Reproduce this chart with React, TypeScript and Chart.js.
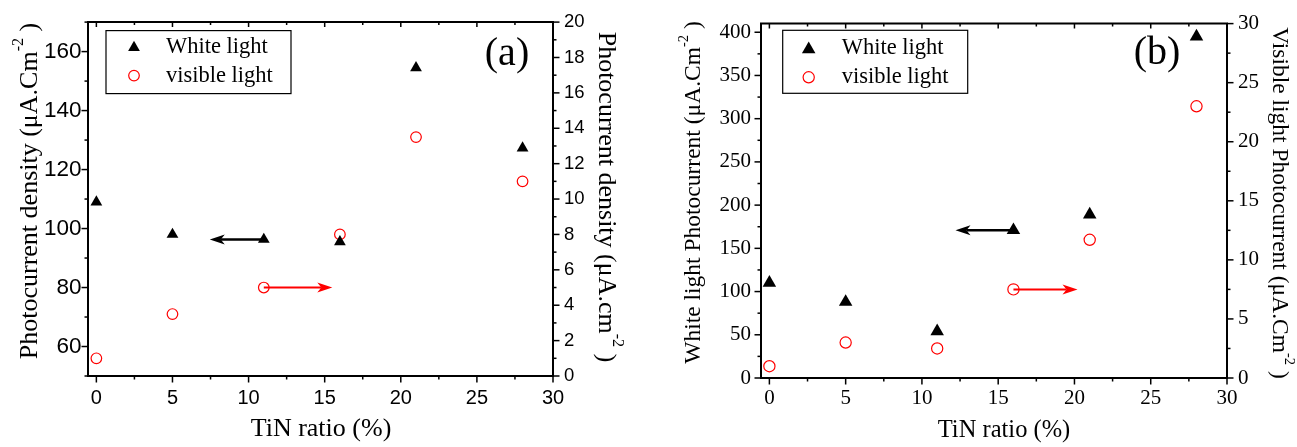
import React, { useEffect, useRef } from 'react';
import { Chart, registerables } from 'chart.js';

Chart.register(...registerables);

// ---------- data ----------
const tinRatio = [0, 5, 11, 16, 21, 28];
const whiteLightA = [109, 98, 96.3, 95.5, 154.5, 127.3];
const visibleLightA = [1, 3.5, 5, 8, 13.5, 11];
const whiteLightB = [110, 88, 54, 171, 189, 395];
const visibleLightB = [1, 3, 2.5, 7.5, 11.7, 23];

// ---------- ticks ----------
const xTicks = [0, 5, 10, 15, 20, 25, 30];
const xMinor = [2.5, 7.5, 12.5, 17.5, 22.5, 27.5];
const leftTicksA = [60, 80, 100, 120, 140, 160];
const leftMinorA = [50, 70, 90, 110, 130, 150, 170];
const rightTicksA = [0, 2, 4, 6, 8, 10, 12, 14, 16, 18, 20];
const rightMinorA = [1, 3, 5, 7, 9, 11, 13, 15, 17, 19];
const leftTicksB = [0, 50, 100, 150, 200, 250, 300, 350, 400];
const leftMinorB = [25, 75, 125, 175, 225, 275, 325, 375];
const rightTicksB = [0, 5, 10, 15, 20, 25, 30];
const rightMinorB = [2.5, 7.5, 12.5, 17.5, 22.5, 27.5];

// arrows: which axis each series belongs to
const arrowsA = [
  { fromX: 11, toX: 7.45, y: 96.3, axis: 'y', color: '#000000', width: 2.5 },
  { fromX: 11, toX: 15.5, y: 5, axis: 'y1', color: '#ff0000', width: 2 },
];
const arrowsB = [
  { fromX: 16, toX: 12.2, y: 171, axis: 'y', color: '#000000', width: 2.5 },
  { fromX: 16, toX: 20.2, y: 7.5, axis: 'y1', color: '#ff0000', width: 2 },
];

const SERIF = "'Liberation Serif', 'Times New Roman', serif";
const SANS = "'Liberation Sans', Arial, sans-serif";

type Part = { text: string; sup?: boolean };

function drawRich(ctx: CanvasRenderingContext2D, parts: Part[], cx: number, cy: number, rotation: number, size: number, family: string) {
  ctx.save();
  ctx.translate(cx, cy);
  ctx.rotate(rotation);
  ctx.fillStyle = '#000';
  ctx.textBaseline = 'middle';
  ctx.textAlign = 'left';
  const supSize = size * 0.62;
  const widths = parts.map((p) => {
    ctx.font = `${p.sup ? supSize : size}px ${family}`;
    return ctx.measureText(p.text).width;
  });
  const total = widths.reduce((a, b) => a + b, 0);
  let x = -total / 2;
  parts.forEach((p, i) => {
    ctx.font = `${p.sup ? supSize : size}px ${family}`;
    ctx.fillText(p.text, x, p.sup ? -size * 0.42 : 0);
    x += widths[i];
  });
  ctx.restore();
}

function drawTriangle(ctx: CanvasRenderingContext2D, x: number, y: number, r: number) {
  ctx.beginPath();
  ctx.moveTo(x, y - r);
  ctx.lineTo(x + 0.866 * r, y + 0.5 * r);
  ctx.lineTo(x - 0.866 * r, y + 0.5 * r);
  ctx.closePath();
  ctx.fillStyle = '#000';
  ctx.fill();
}

function drawArrow(ctx: CanvasRenderingContext2D, x1: number, x2: number, y: number, color: string, width: number) {
  const dir = Math.sign(x2 - x1);
  const L = 15;
  const W = 5;
  const notch = 4;
  ctx.save();
  ctx.strokeStyle = color;
  ctx.fillStyle = color;
  ctx.lineWidth = width;
  ctx.beginPath();
  ctx.moveTo(x1, y);
  ctx.lineTo(x2 - dir * (L - notch), y);
  ctx.stroke();
  ctx.beginPath();
  ctx.moveTo(x2, y);
  ctx.lineTo(x2 - dir * L, y - W);
  ctx.lineTo(x2 - dir * (L - notch), y);
  ctx.lineTo(x2 - dir * L, y + W);
  ctx.closePath();
  ctx.fill();
  ctx.restore();
}

const decorPlugin = {
  id: 'decor',
  beforeDatasetsDraw(chart: any, _args: any, opts: any) {
    const ctx = chart.ctx as CanvasRenderingContext2D;
    const xs = chart.scales.x;
    (opts.arrows || []).forEach((a: any) => {
      const ys = chart.scales[a.axis];
      drawArrow(ctx, xs.getPixelForValue(a.fromX), xs.getPixelForValue(a.toX), ys.getPixelForValue(a.y), a.color, a.width);
    });
  },
  afterDraw(chart: any, _args: any, opts: any) {
    const ctx = chart.ctx as CanvasRenderingContext2D;
    const area = chart.chartArea;
    ctx.save();
    ctx.strokeStyle = '#000';
    ctx.lineWidth = 1.5;
    const MAJ = 6.5;
    const MIN = 3.5;
    // tick marks
    (opts.tickSets || []).forEach((t: any) => {
      const s = chart.scales[t.id];
      const draw = (vals: number[], len: number, inLen: number) => {
        vals.forEach((v) => {
          const p = s.getPixelForValue(v);
          ctx.beginPath();
          if (s.position === 'bottom') {
            ctx.moveTo(p, area.bottom);
            ctx.lineTo(p, area.bottom + len);
            ctx.moveTo(p, area.top);
            ctx.lineTo(p, area.top + inLen);
          } else if (s.position === 'left') {
            ctx.moveTo(area.left, p);
            ctx.lineTo(area.left - len, p);
          } else {
            ctx.moveTo(area.right, p);
            ctx.lineTo(area.right + len, p);
          }
          ctx.stroke();
        });
      };
      draw(t.major, MAJ, 5);
      draw(t.minor, MIN, 3);
    });
    // top frame line
    ctx.lineWidth = 2;
    ctx.beginPath();
    ctx.moveTo(area.left - 1, area.top);
    ctx.lineTo(area.right + 1, area.top);
    ctx.stroke();

    // legend
    const lg = opts.legend;
    if (lg) {
      const bx = area.left + lg.dx;
      const by = area.top + lg.dy;
      ctx.lineWidth = 1.2;
      ctx.strokeStyle = '#000';
      ctx.strokeRect(bx, by, lg.w, lg.h);
      const rows = chart.data.datasets;
      rows.forEach((ds: any, i: number) => {
        const my = by + lg.rowY[i];
        const mx = bx + lg.markerX;
        if (ds.pointStyle === 'triangle') {
          drawTriangle(ctx, mx, my + 1, ds.pointRadius);
        } else {
          ctx.beginPath();
          ctx.arc(mx, my, ds.pointRadius, 0, Math.PI * 2);
          ctx.strokeStyle = ds.borderColor;
          ctx.lineWidth = ds.borderWidth;
          ctx.stroke();
        }
        ctx.fillStyle = '#000';
        ctx.font = `${lg.fontSize}px ${SERIF}`;
        ctx.textAlign = 'left';
        ctx.textBaseline = 'middle';
        ctx.fillText(ds.label, bx + lg.textX, my);
      });
    }

    // panel label
    const pl = opts.panel;
    if (pl) {
      ctx.fillStyle = '#000';
      ctx.font = `${pl.size}px ${SERIF}`;
      ctx.textAlign = 'center';
      ctx.textBaseline = 'middle';
      ctx.fillText(pl.text, area.left + pl.dx, area.top + pl.dy);
    }
    ctx.restore();

    // titles
    (opts.titles || []).forEach((t: any) => {
      drawRich(ctx, t.parts, t.x, t.y, t.rot, t.size, SERIF);
    });
  },
};

function axis(position: string, min: number, max: number, ticksArr: number[], family: string, size: number, padding: number, fit: number) {
  return {
    type: 'linear',
    position,
    min,
    max,
    afterBuildTicks: (s: any) => {
      s.ticks = ticksArr.map((v) => ({ value: v }));
    },
    afterFit: (s: any) => {
      if (position === 'bottom') s.height = fit;
      else s.width = fit;
    },
    grid: { display: false, drawTicks: false },
    border: { display: true, color: '#000', width: 2 },
    ticks: {
      color: '#000',
      font: { family, size },
      padding,
      autoSkip: false,
      maxRotation: 0,
      minRotation: 0,
      callback: (v: any) => String(v),
    },
  };
}

function datasets(white: number[], visible: number[], triR: number, circR: number) {
  return [
    {
      label: 'White light',
      data: tinRatio.map((x, i) => ({ x, y: white[i] })),
      yAxisID: 'y',
      pointStyle: 'triangle',
      pointRadius: triR,
      backgroundColor: '#000',
      borderColor: '#000',
      borderWidth: 0,
      showLine: false,
    },
    {
      label: 'visible light',
      data: tinRatio.map((x, i) => ({ x, y: visible[i] })),
      yAxisID: 'y1',
      pointStyle: 'circle',
      pointRadius: circR,
      backgroundColor: 'rgba(255,255,255,0)',
      borderColor: '#ff0000',
      borderWidth: 1.2,
      showLine: false,
    },
  ];
}

const W_A = 650;
const W_B = 647;
const H = 447;

function configA(): any {
  return {
    type: 'scatter',
    data: { datasets: datasets(whiteLightA, visibleLightA, 6.8, 5.3) },
    plugins: [decorPlugin],
    options: {
      animation: false,
      responsive: false,
      maintainAspectRatio: false,
      layout: { padding: { top: 18, left: 0, right: 0, bottom: 0 } },
      plugins: {
        legend: { display: false },
        tooltip: { enabled: false },
        decor: {
          arrows: arrowsA,
          tickSets: [
            { id: 'x', major: xTicks, minor: xMinor },
            { id: 'y', major: leftTicksA, minor: leftMinorA },
            { id: 'y1', major: rightTicksA, minor: rightMinorA },
          ],
          legend: { dx: 18, dy: 8.5, w: 185, h: 63, markerX: 28, textX: 60, rowY: [16, 45], fontSize: 22.5 },
          panel: { text: '(a)', dx: 419, dy: 32, size: 40 },
          titles: [
            { parts: [{ text: 'Photocurrent density (μA.Cm' }, { text: '-2', sup: true }, { text: ' )' }], x: 30, y: 191, rot: -Math.PI / 2, size: 26 },
            { parts: [{ text: 'Photocurrent density (μA.cm' }, { text: '-2', sup: true }, { text: ' )' }], x: 606, y: 197, rot: Math.PI / 2, size: 26 },
            { parts: [{ text: 'TiN ratio (%)' }], x: 321, y: 429, rot: 0, size: 26 },
          ],
        },
      },
      scales: {
        x: axis('bottom', -0.55, 30, xTicks, SANS, 20, 10, H - 376),
        y: axis('left', 50, 170, leftTicksA, SANS, 22.5, 6.5, 88),
        y1: axis('right', 0, 20, rightTicksA, SANS, 18.5, 11, W_A - 553),
      },
    },
  };
}

function configB(): any {
  return {
    type: 'scatter',
    data: { datasets: datasets(whiteLightB, visibleLightB, 7.8, 5.6) },
    plugins: [decorPlugin],
    options: {
      animation: false,
      responsive: false,
      maintainAspectRatio: false,
      layout: { padding: { top: 18, left: 0, right: 0, bottom: 0 } },
      plugins: {
        legend: { display: false },
        tooltip: { enabled: false },
        decor: {
          arrows: arrowsB,
          tickSets: [
            { id: 'x', major: xTicks, minor: xMinor },
            { id: 'y', major: leftTicksB, minor: leftMinorB },
            { id: 'y1', major: rightTicksB, minor: rightMinorB },
          ],
          legend: { dx: 21.7, dy: 6.7, w: 185, h: 63, markerX: 26, textX: 59, rowY: [18, 47], fontSize: 22.5 },
          panel: { text: '(b)', dx: 396, dy: 30, size: 40 },
          titles: [
            { parts: [{ text: 'White light Photocurrent (μA.Cm' }, { text: '-2', sup: true }, { text: ' )' }], x: 44, y: 192.5, rot: -Math.PI / 2, size: 23.5 },
            { parts: [{ text: 'Visible light Photocurrent (μA.Cm' }, { text: '-2', sup: true }, { text: ' )' }], x: 629, y: 203, rot: Math.PI / 2, size: 23.5 },
            { parts: [{ text: 'TiN ratio (%)' }], x: 354, y: 431, rot: 0, size: 24.5 },
          ],
        },
      },
      scales: {
        x: axis('bottom', -0.55, 30, xTicks, SERIF, 21, 8, H - 378),
        y: axis('left', 0, 410, leftTicksB, SERIF, 21, 10, 111),
        y1: axis('right', 0, 30, rightTicksB, SERIF, 21, 11, W_B - 577),
      },
    },
  };
}

function Panel({ make, left, width }: { make: () => any; left: number; width: number }) {
  const ref = useRef<HTMLCanvasElement>(null);
  useEffect(() => {
    const chart = new Chart(ref.current as HTMLCanvasElement, make());
    return () => chart.destroy();
  }, []);
  return (
    <canvas
      ref={ref}
      width={width}
      height={H}
      style={{ position: 'absolute', left, top: 0, width, height: H, display: 'block' }}
    />
  );
}

export default function App() {
  return (
    <div style={{ position: 'absolute', left: 0, top: 0, width: 1297, height: H, background: '#fff', overflow: 'hidden' }}>
      <Panel make={configA} left={0} width={W_A} />
      <Panel make={configB} left={650} width={W_B} />
    </div>
  );
}
